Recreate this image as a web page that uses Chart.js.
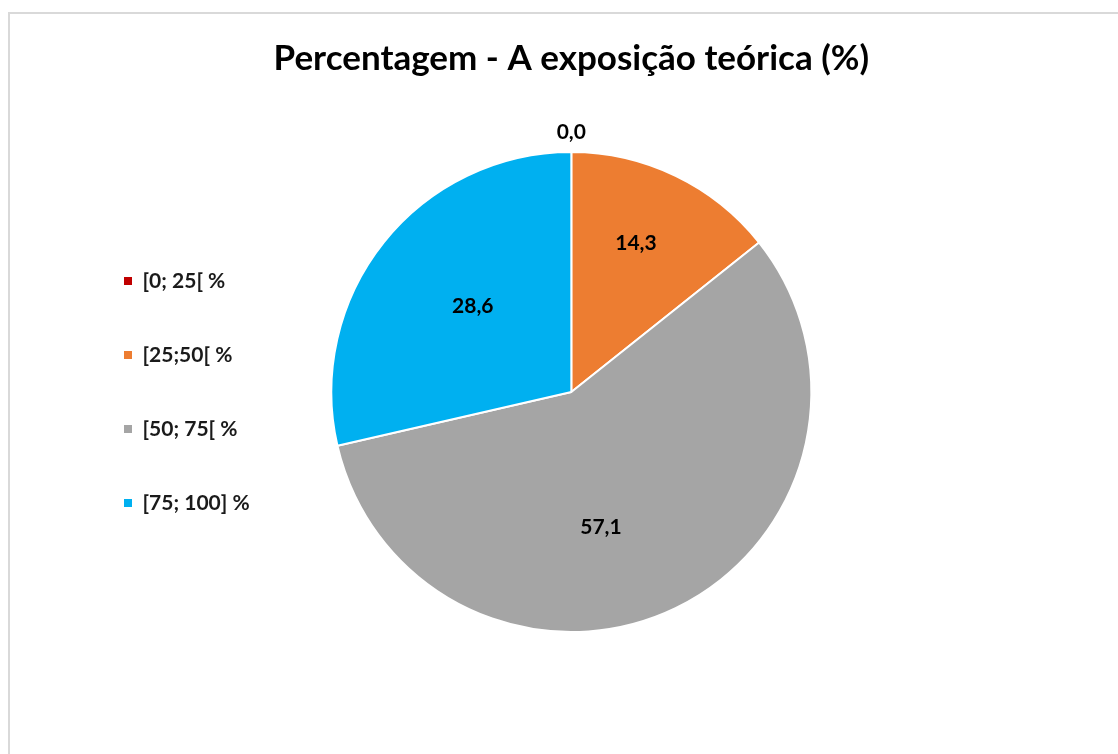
<!DOCTYPE html>
<html>
<head>
<meta charset="utf-8">
<script src="https://cdn.jsdelivr.net/npm/chart.js@4/dist/chart.umd.min.js"></script>
<style>
  html, body { margin: 0; padding: 0; background: #fff; overflow: hidden; }
  #frame { position: absolute; left: 8px; top: 12px; width: 1300px; height: 900px; border: 2px solid #d9d9d9; box-sizing: border-box; }
  #c { position: absolute; left: 0; top: 0; }
</style>
</head>
<body>
<div id="frame"></div>
<canvas id="c" width="1118" height="754"></canvas>
<script>
const titleText = 'Percentagem - A exposição teórica (%)';
const categories = ['[0; 25[ %', '[25;50[ %', '[50; 75[ %', '[75; 100] %'];
const values = [0.0, 14.3, 57.1, 28.6];
const valueLabels = ['0,0', '14,3', '57,1', '28,6'];
const colors = ['#C00000', '#ED7D31', '#A5A5A5', '#00B0F0'];

// label placement (angle shift in degrees, radius fraction); >1 means outside
const labelPlacement = [
  { shift: 0, frac: 1.081 },
  { shift: -2.3, frac: 0.677 },
  { shift: 13.4, frac: 0.578 },
  { shift: 2.6, frac: 0.545 }
];

const FONT = 'Lato, "Open Sans", "DejaVu Sans", sans-serif';

const dataLabelPlugin = {
  id: 'dataLabels',
  afterDatasetsDraw(chart) {
    const ctx = chart.ctx;
    const meta = chart.getDatasetMeta(0);
    ctx.save();
    ctx.font = 'bold 21px ' + FONT;
    ctx.fillStyle = '#000';
    ctx.textAlign = 'center';
    ctx.textBaseline = 'middle';
    meta.data.forEach((arc, i) => {
      const p = arc.getProps(['x', 'y', 'startAngle', 'endAngle', 'outerRadius'], true);
      const mid = (p.startAngle + p.endAngle) / 2 + labelPlacement[i].shift * Math.PI / 180;
      const d = p.outerRadius * labelPlacement[i].frac;
      ctx.fillText(valueLabels[i], p.x + Math.cos(mid) * d, p.y + Math.sin(mid) * d);
    });
    ctx.restore();
  }
};

new Chart(document.getElementById('c'), {
  type: 'pie',
  data: {
    labels: categories,
    datasets: [{
      data: values,
      backgroundColor: colors,
      borderColor: '#ffffff',
      borderWidth: 2,
      hoverOffset: 0,
      offset: 0
    }]
  },
  options: {
    responsive: false,
    animation: false,
    events: [],
    layout: { padding: { left: 71, right: 235, top: 0, bottom: 121 } },
    plugins: {
      tooltip: { enabled: false },
      title: {
        display: true,
        text: titleText,
        fullSize: false,
        color: '#000',
        font: { family: FONT, size: 35, weight: 'bold' },
        padding: { top: 38, bottom: 71 }
      },
      legend: {
        display: true,
        position: 'left',
        fullSize: false,
        align: 'center',
        labels: {
          color: '#1a1a1a',
          font: { family: FONT, size: 21, weight: 'bold' },
          boxWidth: 8,
          boxHeight: 8,
          padding: 53,
          generateLabels(chart) {
            const items = Chart.overrides.pie.plugins.legend.labels.generateLabels(chart);
            return items.map(it => Object.assign(it, { lineWidth: 0, strokeStyle: it.fillStyle }));
          }
        }
      }
    }
  },
  plugins: [dataLabelPlugin]
});
</script>
</body>
</html>
